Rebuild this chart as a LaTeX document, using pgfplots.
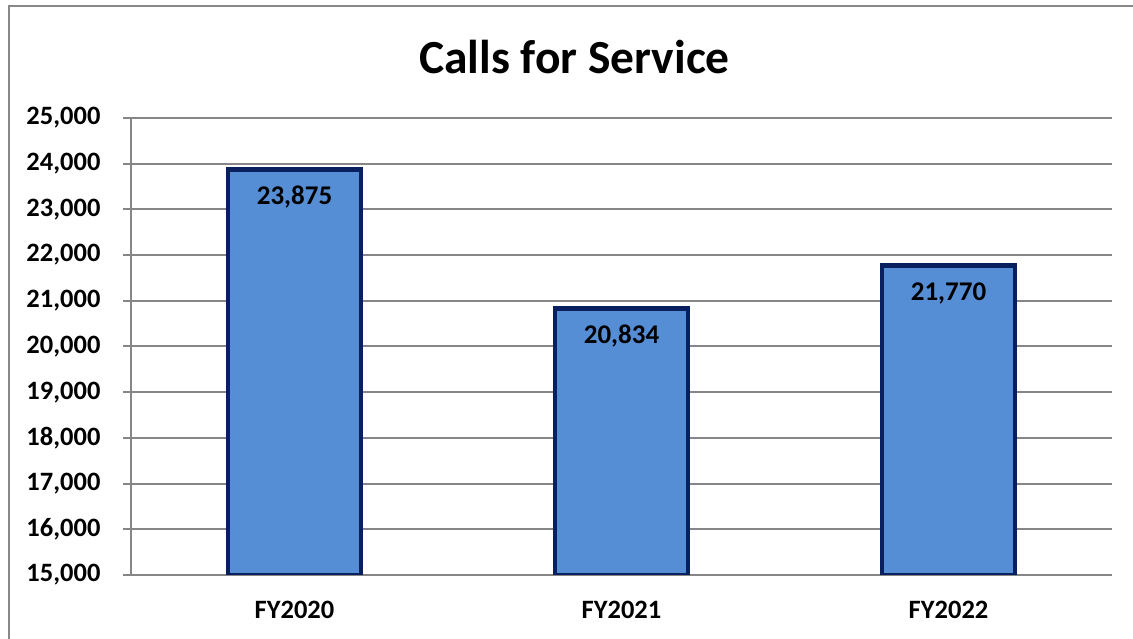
\documentclass[border=0pt]{standalone}
\usepackage{pgfplots}
\pgfplotsset{compat=1.18}
\usepackage{fontspec}
\setmainfont{Carlito}
\definecolor{barfill}{RGB}{85,142,213}
\definecolor{bardraw}{RGB}{8,32,96}
\definecolor{gridgray}{RGB}{134,134,134}
\definecolor{framegray}{RGB}{136,136,136}
\begin{document}
\begin{tikzpicture}[x=1bp,y=1bp]
\useasboundingbox (0,0) rectangle (1133,639);
\draw[framegray, line width=2bp] (8.5,-10) -- (8.5,632.5) -- (1145,632.5);
\node[font=\fontsize{47.5bp}{54bp}\selectfont\bfseries] at (574.5,582) {Calls for Service};
\begin{axis}[
  at={(131bp,64bp)}, anchor=south west,
  scale only axis, width=981bp, height=457bp,
  xmin=-0.5, xmax=2.5, ymin=15000, ymax=25000,
  ytick={15000,16000,...,25000},
  scaled y ticks=false,
  xtick={0,1,2}, xticklabels={FY2020,FY2021,FY2022},
  major x tick style={draw=none},
  extra x ticks={-0.5,0.5,1.5,2.5}, extra x tick labels={},
  extra x tick style={major tick length=8bp, tick style={draw=gridgray, line width=1.5bp}},
  axis lines=left, axis line style={-, draw=gridgray, line width=2bp},
  ymajorgrids, grid style={draw=gridgray, line width=2bp},
  tick align=outside, major tick length=8bp,
  tick style={draw=gridgray, line width=2bp},
  /pgf/number format/.cd, fixed, 1000 sep={,}, assume math mode=true,
  /pgfplots/.cd,
  ticklabel style={font=\fontsize{26.5bp}{30bp}\selectfont\bfseries},
  yticklabel style={xshift=-19bp},
  xticklabel style={yshift=-15bp},
  ybar, bar width=133bp,
  nodes near coords,
  nodes near coords style={font=\fontsize{27bp}{30bp}\selectfont\bfseries, anchor=center, yshift=-28bp, /pgf/number format/.cd, fixed, 1000 sep={,}, assume math mode=true},
]
\addplot[fill=barfill, draw=bardraw, line width=4.5bp] coordinates {(0,23875) (1,20834) (2,21770)};
\end{axis}
\end{tikzpicture}
\end{document}
